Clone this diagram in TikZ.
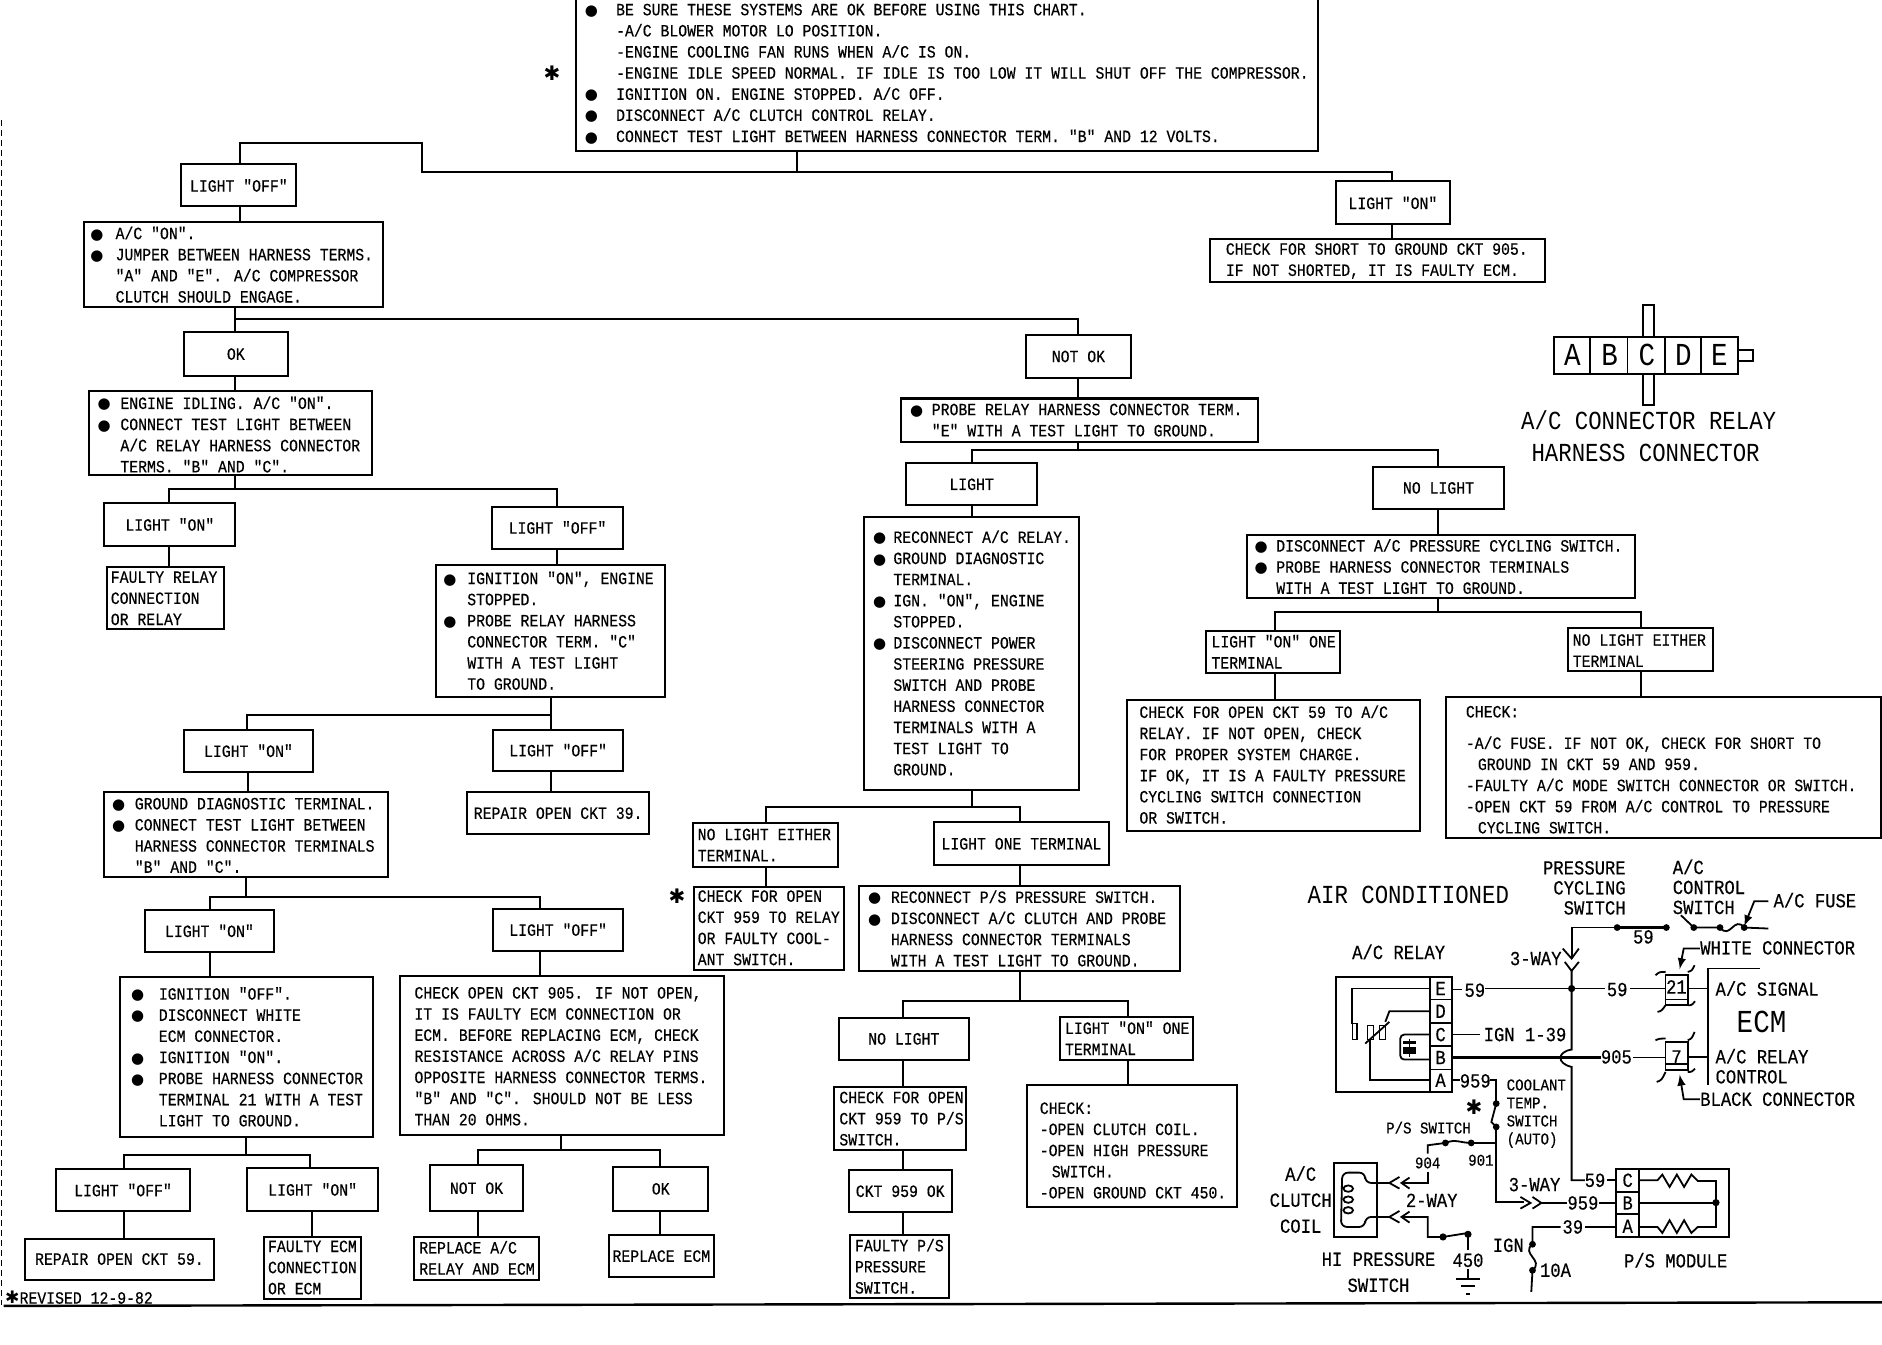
\documentclass[tikz,border=0pt]{standalone}
\usepackage{fontspec}
\newfontfamily\monof[FakeStretch=0.86,FakeBold=0.35]{Liberation Mono}
\newfontfamily\monob[FakeStretch=0.86]{Liberation Mono}
\newfontfamily\djfont{DejaVu Sans}
\newcommand\fs{\monof\fontsize{8.6}{10.56}\selectfont}
\newcommand\fm{\monof\fontsize{10}{10}\selectfont}
\newcommand\fsm{\monof\fontsize{8.2}{8}\selectfont}
\newcommand\fb{\monob\fontsize{13}{15}\selectfont}
\newcommand\fl{\monob\fontsize{16}{18}\selectfont}
\newcommand\bull[1]{\makebox[\dimexpr 0.6pt*#1\relax][l]{\djfont\fontsize{7.5}{8}\selectfont ●}}
\newcommand\indt[1]{\hspace*{\dimexpr 0.6pt*#1\relax}}
\newcommand\stargl{{\djfont ✱}}
\tikzset{
  boxs/.style={draw,line width=1pt,rectangle,inner sep=0pt,outer sep=0pt},
  txt/.style={font=\fs,align=left,anchor=west,inner sep=0pt},
  lbl/.style={font=\fs,align=center},
  conn/.style={line width=1pt},
  ck/.style={font=\fm,inner sep=0pt,align=center},
  ckl/.style={font=\fm,inner sep=0pt,align=left,anchor=west},
  cks/.style={font=\fsm,inner sep=0pt,align=left,anchor=west},
  big/.style={font=\fb,inner sep=0pt,align=center},
  large/.style={font=\fl,inner sep=0pt,align=center},
  wire/.style={line width=0.9pt},
  dotc/.style={fill=black}
}
\newcommand\boxT[8]{%
  \node[boxs,minimum width={(#4-#2)*0.6pt},minimum height={(#5-#3)*0.6pt}] (#1) at ({(#2+#4)/2},{(#3+#5)/2}) {};
  \node[txt] (#1t) at (#6,#7) {#8};}
\newcommand\boxL[6]{%
  \node[boxs,lbl,minimum width={(#4-#2)*0.6pt},minimum height={(#5-#3)*0.6pt}] (#1) at ({(#2+#4)/2},{(#3+#5)/2}) {#6};}
\newcommand\treeL[5]{%
  \coordinate (tp) at (#2,0);
  \coordinate (tb) at (0,#3);
  \coordinate (tc) at (#5,0);
  \draw[conn] (#1.south -| tp) -- (tb -| tp) -- (tb -| tc) -- (#4.north -| tc);}
\begin{document}
\begin{tikzpicture}[x=0.6pt,y=-0.6pt]
\useasboundingbox (0,0) rectangle (1568,1120);
\fill[white] (0,0) rectangle (1568,1120);

% Main boxes
\boxT{top}{480}{-6}{1098}{126}{487}{61.5}{%
\bull{26}BE SURE THESE SYSTEMS ARE OK BEFORE USING THIS CHART.\\
\indt{26}-A/C BLOWER MOTOR LO POSITION.\\
\indt{26}-ENGINE COOLING FAN RUNS WHEN A/C IS ON.\\
\indt{26}-ENGINE IDLE SPEED NORMAL. IF IDLE IS TOO LOW IT WILL SHUT OFF THE COMPRESSOR.\\
\bull{26}IGNITION ON. ENGINE STOPPED. A/C OFF.\\
\bull{26}DISCONNECT A/C CLUTCH CONTROL RELAY.\\
\bull{26}CONNECT TEST LIGHT BETWEEN HARNESS CONNECTOR TERM. "B" AND 12 VOLTS.}
\node[font=\fm,inner sep=0pt] (topstar) at (460,61) {\stargl};

\boxL{off1}{151}{137}{247}{172}{LIGHT "OFF"}
\boxL{on1}{1113}{151}{1208}{187}{LIGHT "ON"}
\boxT{short}{1008}{199}{1287}{235}{1021}{217.5}{CHECK FOR SHORT TO GROUND CKT 905.\\IF NOT SHORTED, IT IS FAULTY ECM.}
\boxT{acon}{70}{185}{319}{256}{75}{220.5}{%
\bull{21}A/C "ON".\\
\bull{21}JUMPER BETWEEN HARNESS TERMS.\\
\indt{21}"A" AND "E". A/C COMPRESSOR\\
\indt{21}CLUTCH SHOULD ENGAGE.}
\boxL{ok1}{153}{277}{240}{313}{OK}
\boxL{notok1}{855}{279}{942}{315}{NOT OK}
\boxT{idle}{74}{326}{310}{396}{81}{362}{%
\bull{19}ENGINE IDLING. A/C "ON".\\
\bull{19}CONNECT TEST LIGHT BETWEEN\\
\indt{19}A/C RELAY HARNESS CONNECTOR\\
\indt{19}TERMS. "B" AND "C".}
\boxL{on2}{87}{419}{196}{455}{LIGHT "ON"}
\boxL{off2}{410}{422}{519}{457}{LIGHT "OFF"}
\boxT{frelay}{89}{472}{187}{524}{92}{498.5}{FAULTY RELAY\\CONNECTION\\OR RELAY}
\boxT{ign}{363}{471}{554}{581}{369}{525.5}{%
\bull{20}IGNITION "ON", ENGINE\\
\indt{20}STOPPED.\\
\bull{20}PROBE RELAY HARNESS\\
\indt{20}CONNECTOR TERM. "C"\\
\indt{20}WITH A TEST LIGHT\\
\indt{20}TO GROUND.}
\boxL{on3}{153}{608}{261}{643}{LIGHT "ON"}
\boxL{off3}{411}{608}{519}{642}{LIGHT "OFF"}
\boxL{rep39}{389}{660}{541}{695}{REPAIR OPEN CKT 39.}
\boxT{diag}{87}{660}{323}{731}{93}{696}{%
\bull{19}GROUND DIAGNOSTIC TERMINAL.\\
\bull{19}CONNECT TEST LIGHT BETWEEN\\
\indt{19}HARNESS CONNECTOR TERMINALS\\
\indt{19}"B" AND "C".}
\boxL{on4}{121}{758}{228}{793}{LIGHT "ON"}
\boxL{off4}{411}{757}{519}{792}{LIGHT "OFF"}
\boxT{ignoff}{100}{814}{311}{947}{109}{880.5}{%
\bull{23}IGNITION "OFF".\\
\bull{23}DISCONNECT WHITE\\
\indt{23}ECM CONNECTOR.\\
\bull{23}IGNITION "ON".\\
\bull{23}PROBE HARNESS CONNECTOR\\
\indt{23}TERMINAL 21 WITH A TEST\\
\indt{23}LIGHT TO GROUND.}
\boxT{c905}{333}{813}{603}{946}{345}{880}{%
CHECK OPEN CKT 905. IF NOT OPEN,\\
IT IS FAULTY ECM CONNECTION OR\\
ECM. BEFORE REPLACING ECM, CHECK\\
RESISTANCE ACROSS A/C RELAY PINS\\
OPPOSITE HARNESS CONNECTOR TERMS.\\
"B" AND "C". SHOULD NOT BE LESS\\
THAN 20 OHMS.}
\boxL{off5}{47}{974}{158}{1009}{LIGHT "OFF"}
\boxL{on5}{206}{973}{315}{1009}{LIGHT "ON"}
\boxL{notok2}{358}{971}{436}{1009}{NOT OK}
\boxL{ok2}{511}{972}{590}{1009}{OK}
\boxL{rep59}{21}{1032}{178}{1066}{REPAIR OPEN CKT 59.}
\boxT{fecm}{220}{1031}{301}{1082}{223}{1056}{FAULTY ECM\\CONNECTION\\OR ECM}
\boxT{racm}{345}{1031}{449}{1066}{349}{1048}{REPLACE A/C\\RELAY AND ECM}
\boxL{recm}{507}{1029}{595}{1064}{REPLACE ECM}

\boxT{probe}{751}{332}{1048}{368}{758}{350}{%
\bull{18}PROBE RELAY HARNESS CONNECTOR TERM.\\
\indt{18}"E" WITH A TEST LIGHT TO GROUND.}
\boxL{light1}{755}{386}{864}{421}{LIGHT}
\boxL{nolight1}{1144}{389}{1253}{424}{NO LIGHT}
\boxT{recon}{720}{431}{899}{658}{727}{544}{%
\bull{17}RECONNECT A/C RELAY.\\
\bull{17}GROUND DIAGNOSTIC\\
\indt{17}TERMINAL.\\
\bull{17}IGN. "ON", ENGINE\\
\indt{17}STOPPED.\\
\bull{17}DISCONNECT POWER\\
\indt{17}STEERING PRESSURE\\
\indt{17}SWITCH AND PROBE\\
\indt{17}HARNESS CONNECTOR\\
\indt{17}TERMINALS WITH A\\
\indt{17}TEST LIGHT TO\\
\indt{17}GROUND.}
\boxT{noeither1}{577}{686}{698}{722}{581}{704}{NO LIGHT EITHER\\TERMINAL.}
\boxL{oneterm}{778}{685}{924}{721}{LIGHT ONE TERMINAL}
\boxT{c959}{578}{739}{703}{808}{581}{773}{%
CHECK FOR OPEN\\CKT 959 TO RELAY\\OR FAULTY COOL-\\ANT SWITCH.}
\node[font=\fm,inner sep=0pt] (c959star) at (564,747) {\stargl};
\boxT{recps}{716}{738}{983}{809}{723}{773.5}{%
\bull{19}RECONNECT P/S PRESSURE SWITCH.\\
\bull{19}DISCONNECT A/C CLUTCH AND PROBE\\
\indt{19}HARNESS CONNECTOR TERMINALS\\
\indt{19}WITH A TEST LIGHT TO GROUND.}
\boxL{nolight2}{699}{848}{807}{883}{NO LIGHT}
\boxT{ononet}{883}{847}{994}{883}{887}{865}{LIGHT "ON" ONE\\TERMINAL}
\boxT{cps}{695}{906}{805}{958}{699}{932}{CHECK FOR OPEN\\CKT 959 TO P/S\\SWITCH.}
\boxL{c959ok}{707}{975}{793}{1010}{CKT 959 OK}
\boxT{fps}{708}{1029}{791}{1081}{712}{1055}{FAULTY P/S\\PRESSURE\\SWITCH.}
\boxT{chk1}{856}{904}{1031}{1006}{866}{958.5}{%
CHECK:\\-OPEN CLUTCH COIL.\\-OPEN HIGH PRESSURE\\\indt{10}SWITCH.\\-OPEN GROUND CKT 450.}
\boxT{disc}{1039}{446}{1362}{498}{1045}{472}{%
\bull{18}DISCONNECT A/C PRESSURE CYCLING SWITCH.\\
\bull{18}PROBE HARNESS CONNECTOR TERMINALS\\
\indt{18}WITH A TEST LIGHT TO GROUND.}
\boxT{ononet2}{1005}{526}{1116}{561}{1009}{543}{LIGHT "ON" ONE\\TERMINAL}
\boxT{noeither2}{1306}{523}{1427}{559}{1310}{542}{NO LIGHT EITHER\\TERMINAL}
\boxT{c59}{939}{583}{1183}{692}{949}{637}{%
CHECK FOR OPEN CKT 59 TO A/C\\RELAY. IF NOT OPEN, CHECK\\FOR PROPER SYSTEM CHARGE.\\IF OK, IT IS A FAULTY PRESSURE\\CYCLING SWITCH CONNECTION\\OR SWITCH.}
\node[boxs,minimum width={362*0.6pt},minimum height={117*0.6pt}] (chk2) at (1386,639.5) {};
\node[txt] (chk2a) at (1221,593) {CHECK:};
\node[txt] (chk2t) at (1221,654) {%
-A/C FUSE. IF NOT OK, CHECK FOR SHORT TO\\
\indt{10}GROUND IN CKT 59 AND 959.\\
-FAULTY A/C MODE SWITCH CONNECTOR OR SWITCH.\\
-OPEN CKT 59 FROM A/C CONTROL TO PRESSURE\\
\indt{10}CYCLING SWITCH.};

% Tree connectors
\coordinate (t1) at (664,143);
\coordinate (t2) at (352,143);
\coordinate (t3) at (352,119);
\coordinate (t4) at (200,119);
\coordinate (t5) at (1160,143);
\draw[conn] (top.south -| t1) -- (t1);
\draw[conn] (off1.north -| t4) -- (t4) -- (t3) -- (t2) -- (t5) -- (on1.north -| t5);
\treeL{on1}{1160}{192}{short}{1160}
\treeL{off1}{200}{178}{acon}{200}
\treeL{acon}{196}{266}{ok1}{196}
\treeL{acon}{196}{266}{notok1}{898}
\treeL{ok1}{196}{320}{idle}{196}
\treeL{idle}{196}{407}{on2}{141}
\treeL{idle}{196}{407}{off2}{464}
\treeL{on2}{141}{464}{frelay}{141}
\treeL{off2}{464}{464}{ign}{464}
\treeL{ign}{459}{596}{on3}{206}
\treeL{ign}{459}{596}{off3}{459}
\treeL{off3}{459}{650}{rep39}{459}
\treeL{on3}{207}{650}{diag}{207}
\treeL{diag}{205}{747}{on4}{175}
\treeL{diag}{205}{747}{off4}{450}
\treeL{on4}{175}{803}{ignoff}{175}
\treeL{off4}{450}{803}{c905}{450}
\treeL{ignoff}{205}{962}{off5}{103}
\treeL{ignoff}{205}{962}{on5}{258}
\treeL{c905}{467}{958}{notok2}{398}
\treeL{c905}{467}{958}{ok2}{550}
\treeL{off5}{103}{1020}{rep59}{103}
\treeL{on5}{260}{1020}{fecm}{260}
\treeL{notok2}{398}{1020}{racm}{398}
\treeL{ok2}{550}{1020}{recm}{550}
\treeL{notok1}{898}{323}{probe}{898}
\treeL{probe}{898}{375}{light1}{810}
\treeL{probe}{898}{375}{nolight1}{1198}
\treeL{light1}{810}{426}{recon}{810}
\treeL{recon}{810}{672}{noeither1}{638}
\treeL{recon}{810}{672}{oneterm}{850}
\treeL{noeither1}{638}{730}{c959}{638}
\treeL{oneterm}{850}{730}{recps}{850}
\treeL{recps}{850}{834}{nolight2}{752}
\treeL{recps}{850}{834}{ononet}{940}
\treeL{nolight2}{752}{895}{cps}{752}
\treeL{cps}{752}{966}{c959ok}{752}
\treeL{c959ok}{752}{1020}{fps}{752}
\treeL{ononet}{940}{895}{chk1}{940}
\treeL{nolight1}{1198}{435}{disc}{1198}
\treeL{disc}{1198}{510}{ononet2}{1062}
\treeL{disc}{1198}{510}{noeither2}{1367}
\treeL{ononet2}{1062}{572}{c59}{1062}
\treeL{noeither2}{1367}{570}{chk2}{1367}

% Border
\draw[line width=1.2pt] (3,1088) -- (1568,1085);
\draw[line width=0.6pt,densely dashed] (1,100) -- (1,1087);
\node[txt] (revised) at (4,1081) {\stargl REVISED 12-9-82};

% Relay harness connector
\draw[line width=0.9pt] (1294.4,280.5) rectangle (1447.8,311.6);
\foreach \xa in {1325,1356,1387.5,1417.5} \draw[line width=0.9pt] (\xa,280.5) -- (\xa,311.6);
\draw[line width=0.9pt] (1369,280.5) -- (1369,254) -- (1378,254) -- (1378,280.5);
\draw[line width=0.9pt] (1369,311.6) -- (1369,337.5) -- (1378,337.5) -- (1378,311.6);
\draw[line width=0.9pt] (1447.8,291.6) -- (1460.3,291.6) -- (1460.3,300.8) -- (1447.8,300.8);
\node[large] (ca) at (1310,296) {A};
\node[large] (cb) at (1341,296) {B};
\node[large] (cc) at (1372,296) {C};
\node[large] (cd) at (1402.5,296) {D};
\node[large] (ce) at (1432.5,296) {E};
\node[big] (chead1) at (1373.6,350.5) {A/C CONNECTOR RELAY};
\node[big] (chead2) at (1371,377) {HARNESS CONNECTOR};

% Circuit
\begin{scope}[shift={(625pt,-420pt)},x=0.20155pt,y=-0.16667pt]
\node[big] (airc) at (392,165) {AIR CONDITIONED};
\node[ck,align=right,anchor=east] (pcs) at (932,143) {PRESSURE\\[0pt]CYCLING\\[0pt]SWITCH};
\node[ckl] (acs) at (1047,140) {A/C\\CONTROL\\SWITCH};
\node[ckl] (fuse) at (1297,180) {A/C FUSE};
\node[ck] (l59a) at (975,290) {59};
\node[ckl] (wc) at (1115,323) {WHITE CONNECTOR};
\node[ckl] (bc) at (1115,777) {BLACK CONNECTOR};
\node[ck] (acrel) at (368,335) {A/C RELAY};
\node[ck] (way3a) at (708,355) {3-WAY};
\node[large] (ecm) at (1268,545) {ECM};
\node[ckl] (acsig) at (1153,445) {A/C SIGNAL};
\node[ckl] (acrc) at (1153,678) {A/C RELAY\\CONTROL};
% relay
\draw[wire] (445,410) -- (213,410) -- (213,755) -- (445,755);
\draw[wire] (445,410) rectangle (500,755);
\foreach \ya in {478,548,618,688} \draw[wire] (445,\ya) -- (500,\ya);
\node[ck] (re) at (472,445) {E};
\node[ck] (rd) at (472,513) {D};
\node[ck] (rc) at (472,583) {C};
\node[ck] (rb) at (472,652) {B};
\node[ck] (ra) at (472,720) {A};
\draw[wire] (445,445) -- (253,445) -- (253,550);
\draw[line width=0.7pt] (253,550) rectangle (265,598);
\draw[line width=0.7pt] (290,555) rectangle (305,598);
\draw[line width=0.7pt] (320,555) rectangle (335,598);
\draw[wire] (445,513) -- (345,513) -- (335,545);
\draw[wire] (285,610) -- (345,545);
\draw[wire] (445,720) -- (297,720) -- (297,600);
\draw[wire,rounded corners=2pt] (445,583) -- (372,583) -- (372,658) -- (445,658);
\fill (378,602) rectangle (412,612);
\fill (378,620) rectangle (412,642);
\draw[wire] (395,595) -- (395,650);
% 59 horizontal
\draw[wire] (500,448) -- (525,448);
\node[ck] (r59) at (557,450) {59};
\draw[wire] (582,445) -- (880,445);
\node[ck] (r59b) at (910,448) {59};
\draw[wire] (942,445) -- (1030,445);
\fill[dotc] (797,445) circle[radius=1.8pt];
% conn 21
\draw[wire] (1030,405) rectangle (1085,495);
\draw[wire] (1030,478) -- (1085,478);
\node[ck] (n21) at (1057,440) {21};
\draw[wire] (1005,405) .. controls (1015,395) .. (1030,395);
\draw[wire] (1085,395) .. controls (1095,392) .. (1102,375);
\draw[wire] (1010,515) .. controls (1020,512) .. (1030,495);
\draw[wire] (1085,495) .. controls (1095,495) .. (1103,483);
\draw[wire] (1085,445) -- (1135,445);
% conn 7
\draw[wire] (1030,605) rectangle (1085,690);
\draw[wire] (1030,672) -- (1085,672);
\node[ck] (n7) at (1057,650) {7};
\draw[wire] (1005,600) .. controls (1015,595) .. (1030,595);
\draw[wire] (1085,600) .. controls (1095,595) .. (1102,575);
\draw[wire] (1008,725) .. controls (1020,720) .. (1030,695);
\draw[wire] (1085,695) .. controls (1095,695) .. (1103,685);
\draw[wire] (1085,650) -- (1135,650);
\draw[wire] (1263,385) -- (1135,385) -- (1135,735);
% connector arrows
\draw[wire,-latex] (1115,325) -- (1075,325) -- (1065,387);
\draw[wire,-latex] (1115,777) -- (1075,777) -- (1065,703);
\draw[wire,-latex] (1285,183) -- (1250,183) -- (1225,258);
% top wire
\draw[wire] (797,350) -- (797,262) -- (910,262);
\draw[line width=1.2pt] (910,262) -- (1032,262);
\fill[dotc] (910,262) circle[radius=1.7pt];
\fill[dotc] (1032,262) circle[radius=1.7pt];
\draw[wire] (1068,225) -- (1100,262) -- (1165,262) .. controls (1190,300) and (1200,225) .. (1225,262) -- (1285,265);
\fill[dotc] (1100,262) circle[radius=1.7pt];
\fill[dotc] (1165,262) circle[radius=1.7pt];
\fill[dotc] (1225,262) circle[radius=1.7pt];
% 3-way
\draw[wire] (775,325) -- (797,355) -- (815,325);
\draw[wire] (780,365) -- (797,392) -- (815,365);
\draw[wire] (797,392) -- (797,628) .. controls (760,635) and (760,670) .. (797,680) -- (797,1020) -- (830,1020);
\node[ck] (m59) at (855,1020) {59};
\draw[wire] (885,1020) -- (908,1020);
% C, B
\draw[wire] (500,583) -- (570,583);
\node[ckl] (ign139) at (578,583) {IGN 1-39};
\draw[line width=1.2pt] (500,652) -- (870,652);
\node[ck] (w905) at (908,650) {905};
\draw[wire] (950,652) -- (1030,652);
% A
\draw[wire] (500,720) -- (520,720);
\node[ck] (w959) at (558,722) {959};
\draw[wire] (595,720) -- (610,720) -- (610,790);
\fill[dotc] (610,790) circle[radius=1.7pt];
\draw[wire] (610,790) -- (598,845) -- (610,860);
\fill[dotc] (610,860) circle[radius=1.7pt];
\draw[wire] (610,860) -- (610,1085) -- (680,1085);
\draw[wire] (670,1070) -- (695,1088) -- (670,1105);
\draw[wire] (700,1070) -- (722,1088) -- (700,1105);
\draw[wire] (722,1088) -- (785,1088);
\node[ck] (m959) at (825,1088) {959};
\draw[wire] (865,1088) -- (908,1088);
\node[ck] (way3b) at (705,1033) {3-WAY};
\node[cks] (cool) at (635,820) {COOLANT\\[1pt]TEMP.\\[1pt]SWITCH\\[1pt](AUTO)};
\node[font=\fm,inner sep=0pt] (cstar) at (555,800) {\stargl};
\node[font=\fsm,inner sep=0pt] (psw) at (442,862) {P/S SWITCH};
\node[font=\fsm,inner sep=0pt] (w904) at (440,968) {904};
\node[font=\fsm,inner sep=0pt] (w901) at (572,960) {901};
\node[ck] (way2) at (450,1080) {2-WAY};
% P/S switch
\draw[wire] (610,908) -- (548,908) .. controls (520,908) and (510,895) .. (484,908) -- (440,915) -- (440,940);
\draw[wire] (440,995) -- (440,1028) -- (375,1028);
\fill[dotc] (548,908) circle[radius=1.7pt];
\fill[dotc] (484,908) circle[radius=1.7pt];
% clutch coil
\draw[wire] (208,968) rectangle (315,1190);
\node[ck] (clutch) at (125,1078) {A/C\\[3pt]CLUTCH\\[3pt]COIL};
\draw[wire,rounded corners=3pt] (315,1028) -- (285,1028) -- (285,997) -- (228,997) -- (225,1160) -- (285,1160) -- (285,1130) -- (315,1130);
\foreach \yb in {1045,1078,1110} \draw[wire] (243,\yb) ellipse[x radius=2.4pt,y radius=1.6pt];
\draw[wire] (315,1028) -- (345,1028);
\draw[wire] (370,1010) -- (345,1028) -- (370,1045);
\draw[wire] (395,1012) -- (375,1028) -- (395,1045);
\draw[wire] (315,1130) -- (345,1130);
\draw[wire] (370,1112) -- (345,1130) -- (370,1147);
\draw[wire] (395,1114) -- (375,1130) -- (395,1147);
\draw[wire] (375,1130) -- (440,1130) -- (440,1190) -- (478,1190) -- (540,1178);
\fill[dotc] (478,1190) circle[radius=1.8pt];
\fill[dotc] (540,1182) circle[radius=1.8pt];
\draw[wire] (540,1180) -- (540,1230);
\node[ck] (g450) at (540,1260) {450};
\draw[wire] (540,1285) -- (540,1315);
\draw[wire] (510,1315) -- (570,1315);
\draw[wire] (522,1338) -- (558,1338);
\draw[wire] (535,1360) -- (545,1360);
\node[ck] (hips) at (318,1296) {HI PRESSURE\\[3pt]SWITCH};
% module
\draw[wire] (908,985) rectangle (1188,1190);
\draw[wire] (965,985) -- (965,1190);
\draw[wire] (908,1055) -- (965,1055);
\draw[wire] (908,1122) -- (965,1122);
\node[ck] (mc) at (936,1020) {C};
\node[ck] (mb) at (936,1088) {B};
\node[ck] (ma) at (936,1158) {A};
\draw[wire] (965,1020) -- (1010,1020) -- (1022,1003) -- (1040,1040) -- (1058,1003) -- (1076,1040) -- (1094,1003) -- (1110,1022) -- (1155,1022) -- (1155,1160) -- (1110,1160) -- (1094,1178) -- (1076,1140) -- (1058,1178) -- (1040,1140) -- (1022,1178) -- (1010,1160) -- (965,1160);
\draw[wire] (965,1087) -- (1155,1087);
\fill[dotc] (1155,1087) circle[radius=1.8pt];
\draw[wire] (908,1160) -- (830,1160);
\node[ck] (w39) at (800,1160) {39};
\draw[wire] (770,1160) -- (700,1160) -- (700,1212) .. controls (670,1240) and (730,1260) .. (700,1290) -- (697,1355);
\fill[dotc] (700,1212) circle[radius=1.7pt];
\fill[dotc] (700,1290) circle[radius=1.7pt];
\node[ck] (ignl) at (640,1215) {IGN};
\node[ck] (a10) at (757,1290) {10A};
\node[ck] (psm) at (1055,1260) {P/S MODULE};
\end{scope}
\end{tikzpicture}
\end{document}
